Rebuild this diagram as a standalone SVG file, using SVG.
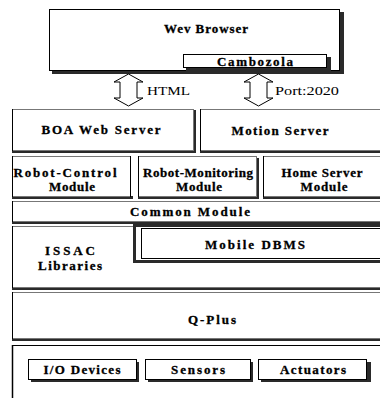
<svg xmlns="http://www.w3.org/2000/svg" width="380" height="398" viewBox="0 0 380 398">
<style>
.bx{fill:#fff;stroke:#000;stroke-width:1}
.ly{fill:#fff;stroke:#777;stroke-width:1}
.sh{fill:#2a2a2a}
.t{font-family:"Liberation Serif","Times New Roman",serif;font-weight:bold;font-size:13px;fill:#000;text-anchor:middle;stroke:#000;stroke-width:0.3}
.r{font-family:"Liberation Serif","Times New Roman",serif;font-size:13px;fill:#000}
.ar{fill:#fff;stroke:#000;stroke-width:1}
</style>
<rect width="380" height="398" fill="#fff"/>
<g id="web-browser">
<rect class="sh" x="52" y="12" width="292" height="62"/>
<rect class="bx" x="49.5" y="9.5" width="290" height="61"/>
<text class="t" x="206" y="33" textLength="84" lengthAdjust="spacing">Wev Browser</text>
</g>
<g id="cambozola">
<rect class="sh" x="186" y="57" width="145" height="14"/>
<rect class="bx" x="183.5" y="54.5" width="143" height="13"/>
<text class="t" x="255" y="66" textLength="76" lengthAdjust="spacing">Cambozola</text>
</g>
<g id="connectors">
<path class="ar" d="M128.5,74 L143,82 L137,82 L137,98 L143,98 L128.5,106 L114,98 L120,98 L120,82 L114,82 Z"/>
<text class="r" x="147" y="95" textLength="43" lengthAdjust="spacingAndGlyphs">HTML</text>
<path class="ar" d="M258.5,74 L273,82 L267,82 L267,98 L273,98 L258.5,106 L244,98 L250,98 L250,82 L244,82 Z"/>
<text class="r" x="275" y="95" textLength="64" lengthAdjust="spacingAndGlyphs">Port:2020</text>
</g>
<g id="boa-web-server">
<rect class="sh" x="12" y="150" width="184" height="3"/>
<rect class="sh" x="193" y="110" width="3" height="43"/>
<rect class="ly" x="12.5" y="109.5" width="181" height="41"/>
<line x1="12.5" y1="109" x2="12.5" y2="151" stroke="#000"/>
<text class="t" x="101" y="134" textLength="119" lengthAdjust="spacing">BOA Web Server</text>
</g>
<g id="motion-server">
<rect class="sh" x="200" y="150" width="182" height="3"/>
<rect class="ly" x="200.5" y="109.5" width="182" height="41"/>
<line x1="200.5" y1="109" x2="200.5" y2="151" stroke="#000"/>
<text class="t" x="280" y="135" textLength="97" lengthAdjust="spacing">Motion Server</text>
</g>
<g id="robot-control-module">
<rect class="sh" x="12" y="196" width="121" height="3"/>
<rect class="ly" x="12.5" y="156.5" width="118" height="40"/>
<line x1="12.5" y1="156" x2="12.5" y2="197" stroke="#000"/>
<line x1="130.5" y1="156" x2="130.5" y2="197" stroke="#000"/>
<text class="t" x="65" y="177" textLength="103" lengthAdjust="spacing">Robot-Control</text>
<text class="t" x="72" y="191" textLength="46" lengthAdjust="spacing">Module</text>
</g>
<g id="robot-monitoring-module">
<rect class="sh" x="138" y="196" width="121" height="3"/>
<rect class="sh" x="256" y="158" width="3" height="41"/>
<rect class="ly" x="138.5" y="156.5" width="118" height="40"/>
<line x1="138.5" y1="156" x2="138.5" y2="197" stroke="#000"/>
<text class="t" x="198" y="177" textLength="110" lengthAdjust="spacing">Robot-Monitoring</text>
<text class="t" x="199" y="191" textLength="46" lengthAdjust="spacing">Module</text>
</g>
<g id="home-server-module">
<rect class="sh" x="263" y="196" width="119" height="3"/>
<rect class="ly" x="263.5" y="156.5" width="119" height="40"/>
<line x1="263.5" y1="156" x2="263.5" y2="197" stroke="#000"/>
<text class="t" x="322" y="177" textLength="81" lengthAdjust="spacing">Home Server</text>
<text class="t" x="324" y="191" textLength="47" lengthAdjust="spacing">Module</text>
</g>
<g id="common-module">
<rect class="sh" x="12" y="221" width="370" height="3"/>
<rect class="ly" x="12.5" y="201.5" width="370" height="20"/>
<line x1="12.5" y1="201" x2="12.5" y2="222" stroke="#000"/>
<text class="t" x="190" y="216" textLength="120" lengthAdjust="spacing">Common Module</text>
</g>
<g id="issac-libraries">
<rect class="sh" x="12" y="287" width="370" height="3"/>
<rect class="ly" x="12.5" y="226.5" width="370" height="61"/>
<line x1="12.5" y1="226" x2="12.5" y2="288" stroke="#000"/>
<text class="t" x="70" y="255" textLength="50" lengthAdjust="spacing">ISSAC</text>
<text class="t" x="70" y="270" textLength="64" lengthAdjust="spacing">Libraries</text>
</g>
<g id="mobile-dbms">
<rect x="134.5" y="225.5" width="250" height="36" fill="#fff" stroke="#2a2a2a" stroke-width="3"/>
<rect class="bx" x="141.5" y="228.5" width="245" height="30"/>
<text class="t" x="255" y="249" textLength="100" lengthAdjust="spacing">Mobile DBMS</text>
</g>
<g id="q-plus">
<rect class="sh" x="12" y="338" width="370" height="3"/>
<rect class="ly" x="12.5" y="292.5" width="370" height="46"/>
<line x1="12.5" y1="292" x2="12.5" y2="339" stroke="#000"/>
<text class="t" x="212" y="324" textLength="48" lengthAdjust="spacing">Q-Plus</text>
</g>
<g id="hardware">
<rect class="ly" x="12.5" y="345.5" width="370" height="60"/>
<line x1="12.5" y1="345" x2="12.5" y2="398" stroke="#000" stroke-width="1.5"/>
<line x1="12" y1="345.5" x2="382" y2="345.5" stroke="#000"/>
</g>
<g id="io-devices">
<rect class="sh" x="31" y="362" width="108" height="20"/>
<rect class="bx" x="28.5" y="359.5" width="108" height="20"/>
<text class="t" x="82" y="374" textLength="77" lengthAdjust="spacing">I/O Devices</text>
</g>
<g id="sensors">
<rect class="sh" x="148" y="362" width="105" height="20"/>
<rect class="bx" x="145.5" y="359.5" width="105" height="20"/>
<text class="t" x="198" y="374" textLength="54" lengthAdjust="spacing">Sensors</text>
</g>
<g id="actuators">
<rect class="sh" x="261" y="362" width="110" height="20"/>
<rect class="bx" x="258.5" y="359.5" width="108" height="20"/>
<text class="t" x="313" y="374" textLength="66" lengthAdjust="spacing">Actuators</text>
</g>
</svg>
